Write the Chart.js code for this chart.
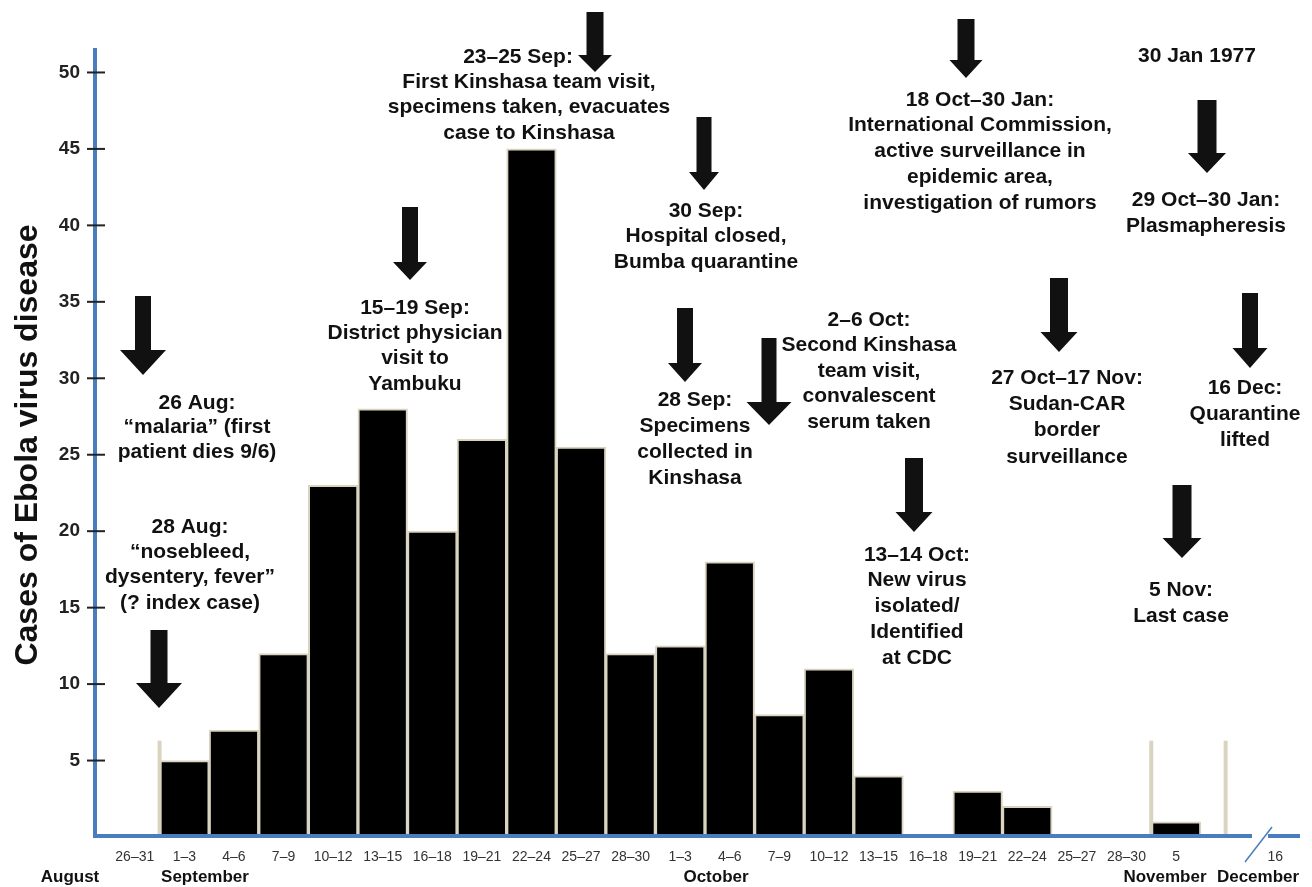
<!DOCTYPE html>
<html>
<head>
<meta charset="utf-8">
<title>Ebola virus disease, Yambuku 1976</title>
<script src="https://cdn.jsdelivr.net/npm/chart.js@4.4.0/dist/chart.umd.min.js"></script>
<style>
  html, body { margin: 0; padding: 0; background: #fff; }
  #wrap { position: relative; width: 1312px; height: 887px; }
</style>
</head>
<body>
<div id="wrap"><canvas id="chart"></canvas></div>
<script>
// 3 day bins (26-31 Aug is 6 days), one empty slot between Nov and Dec
const binLabels = ["26–31", "1–3", "4–6", "7–9", "10–12", "13–15", "16–18", "19–21", "22–24", "25–27", "28–30",
  "1–3", "4–6", "7–9", "10–12", "13–15", "16–18", "19–21", "22–24", "25–27", "28–30", "5", "", "16"];
const cases = [0, 5, 7, 12, 23, 28, 20, 26, 45, 25.5, 12, 12.5, 18, 8, 11, 4, 0, 3, 2, 0, 0, 1, 0, 0];
const yTicks = [5, 10, 15, 20, 25, 30, 35, 40, 45, 50];
const months = ["August", "September", "October", "November", "December"];
const yTitle = "Cases of Ebola virus disease";

const BLUE = "#4a7dc0";
const BEIGE = "#d9d3c0";
const FONT = "'Liberation Sans', Arial, sans-serif";
const AXIS_X = 95; // blue y axis sits a bit left of the first bin

// month names under the tick labels (pixel x)
const monthX = [70, 205, 716, 1165, 1258];

// event notes: centre x, first line y, line step
const notes = [
  { x: 197, y: 403, lh: 24.5, lines: ["26 Aug:", "“malaria” (first", "patient dies 9/6)"] },
  { x: 190, y: 527, lh: 25.3, lines: ["28 Aug:", "“nosebleed,", "dysentery, fever”", "(? index case)"] },
  { x: 415, y: 308, lh: 25.3, lines: ["15–19 Sep:", "District physician", "visit to", "Yambuku"] },
  { x: 518, y: 57, lh: 25, lines: ["23–25 Sep:"] },
  { x: 529, y: 82, lh: 25.5, lines: ["First Kinshasa team visit,", "specimens taken, evacuates", "case to Kinshasa"] },
  { x: 706, y: 211, lh: 25.5, lines: ["30 Sep:", "Hospital closed,", "Bumba quarantine"] },
  { x: 695, y: 400, lh: 26, lines: ["28 Sep:", "Specimens", "collected in", "Kinshasa"] },
  { x: 869, y: 320, lh: 25.5, lines: ["2–6 Oct:", "Second Kinshasa", "team visit,", "convalescent", "serum taken"] },
  { x: 917, y: 555, lh: 25.7, lines: ["13–14 Oct:", "New virus", "isolated/", "Identified", "at CDC"] },
  { x: 980, y: 100, lh: 25.7, lines: ["18 Oct–30 Jan:", "International Commission,", "active surveillance in", "epidemic area,", "investigation of rumors"] },
  { x: 1197, y: 56, lh: 25, lines: ["30 Jan 1977"] },
  { x: 1206, y: 200, lh: 26, lines: ["29 Oct–30 Jan:", "Plasmapheresis"] },
  { x: 1067, y: 378, lh: 26.3, lines: ["27 Oct–17 Nov:", "Sudan-CAR", "border", "surveillance"] },
  { x: 1245, y: 388, lh: 26, lines: ["16 Dec:", "Quarantine", "lifted"] },
  { x: 1181, y: 590, lh: 26, lines: ["5 Nov:", "Last case"] }
];

// down arrows: x, top, neck (head start), tip, shaft width, head width
const arrows = [
  [143, 296, 350, 375, 16, 46],
  [159, 630, 683, 708, 17, 46],
  [410, 207, 262, 280, 16, 34],
  [595, 12, 55, 72, 17, 34],
  [704, 117, 172, 190, 15, 30],
  [685, 308, 363, 382, 16, 34],
  [769, 338, 402, 425, 15, 45],
  [914, 458, 512, 532, 18, 37],
  [966, 19, 60, 78, 17, 33],
  [1207, 100, 153, 173, 19, 38],
  [1059, 278, 332, 352, 18, 37],
  [1250, 293, 348, 368, 16, 35],
  [1182, 485, 538, 558, 19, 39]
];

function drawArrow(ctx, a) {
  let x = a[0], top = a[1], neck = a[2], tip = a[3], sw = a[4] / 2, hw = a[5] / 2;
  ctx.beginPath();
  ctx.moveTo(x - sw, top);
  ctx.lineTo(x + sw, top);
  ctx.lineTo(x + sw, neck);
  ctx.lineTo(x + hw, neck);
  ctx.lineTo(x, tip);
  ctx.lineTo(x - hw, neck);
  ctx.lineTo(x - sw, neck);
  ctx.closePath();
  ctx.fill();
}

const extras = {
  id: "extras",
  afterDatasetsDraw(chart) {
    const ctx = chart.ctx;
    const xs = chart.scales.x, ys = chart.scales.y;
    const area = chart.chartArea;
    ctx.save();

    // month separators
    ctx.strokeStyle = BEIGE;
    ctx.lineWidth = 4;
    [0.5, 20.5, 22].forEach(function (v) {
      let px = xs.getPixelForValue(v);
      ctx.beginPath();
      ctx.moveTo(px, ys.getPixelForValue(6.3));
      ctx.lineTo(px, area.bottom);
      ctx.stroke();
    });

    // axes
    ctx.strokeStyle = BLUE;
    ctx.lineWidth = 4;
    ctx.lineCap = "butt";
    let yb = area.bottom - 1;
    ctx.beginPath();
    ctx.moveTo(AXIS_X, area.top);
    ctx.lineTo(AXIS_X, yb + 2);
    ctx.moveTo(AXIS_X - 2, yb);
    ctx.lineTo(1252, yb);
    ctx.moveTo(1268, yb);
    ctx.lineTo(area.right, yb);
    ctx.stroke();
    // break mark
    ctx.lineWidth = 1.5;
    ctx.beginPath();
    ctx.moveTo(1245, 862);
    ctx.lineTo(1272, 827);
    ctx.stroke();

    // y tick marks crossing the axis
    ctx.strokeStyle = "#222";
    ctx.lineWidth = 2;
    yTicks.forEach(function (v) {
      let py = ys.getPixelForValue(v);
      ctx.beginPath();
      ctx.moveTo(AXIS_X - 8, py);
      ctx.lineTo(AXIS_X + 10, py);
      ctx.stroke();
    });
    ctx.restore();
  },
  afterDraw(chart) {
    const ctx = chart.ctx;
    ctx.save();
    ctx.fillStyle = "#111";

    arrows.forEach(function (a) { drawArrow(ctx, a); });

    ctx.textAlign = "center";
    ctx.textBaseline = "middle";
    ctx.font = "bold 21px " + FONT;
    notes.forEach(function (n) {
      n.lines.forEach(function (t, k) {
        ctx.fillText(t, n.x, n.y + k * n.lh);
      });
    });

    // month names
    ctx.font = "bold 17px " + FONT;
    months.forEach(function (m, i) {
      ctx.fillText(m, monthX[i], 877);
    });

    // y axis title
    ctx.save();
    ctx.translate(37, 445);
    ctx.rotate(-Math.PI / 2);
    ctx.textBaseline = "alphabetic";
    ctx.font = "bold 32px " + FONT;
    ctx.fillText(yTitle, 0, 0);
    ctx.restore();

    ctx.restore();
  }
};

new Chart(document.getElementById("chart"), {
  type: "bar",
  data: {
    labels: binLabels,
    datasets: [
      {
        data: cases,
        backgroundColor: "#000",
        borderColor: BEIGE,
        borderWidth: 2,
        barPercentage: 1,
        categoryPercentage: 1
      }
    ]
  },
  options: {
    responsive: true,
    maintainAspectRatio: false,
    animation: false,
    layout: { padding: { top: 48, right: 12, left: 0, bottom: 0 } },
    plugins: { legend: { display: false }, tooltip: { enabled: false } },
    scales: {
      x: {
        grid: { display: false, drawTicks: false },
        border: { display: false },
        ticks: {
          autoSkip: false,
          maxRotation: 0,
          padding: 12,
          color: "#333",
          font: { family: FONT, size: 14 }
        },
        afterFit: function (scale) { scale.height = 50; }
      },
      y: {
        min: 0,
        max: 51.6,
        grid: { display: false, drawTicks: false },
        border: { display: false },
        afterBuildTicks: function (scale) {
          scale.ticks = yTicks.map(function (v) { return { value: v }; });
        },
        ticks: {
          padding: 30,
          color: "#222",
          font: { family: FONT, size: 19, weight: "bold" }
        },
        afterFit: function (scale) { scale.width = 110; }
      }
    }
  },
  plugins: [extras]
});
</script>
</body>
</html>
